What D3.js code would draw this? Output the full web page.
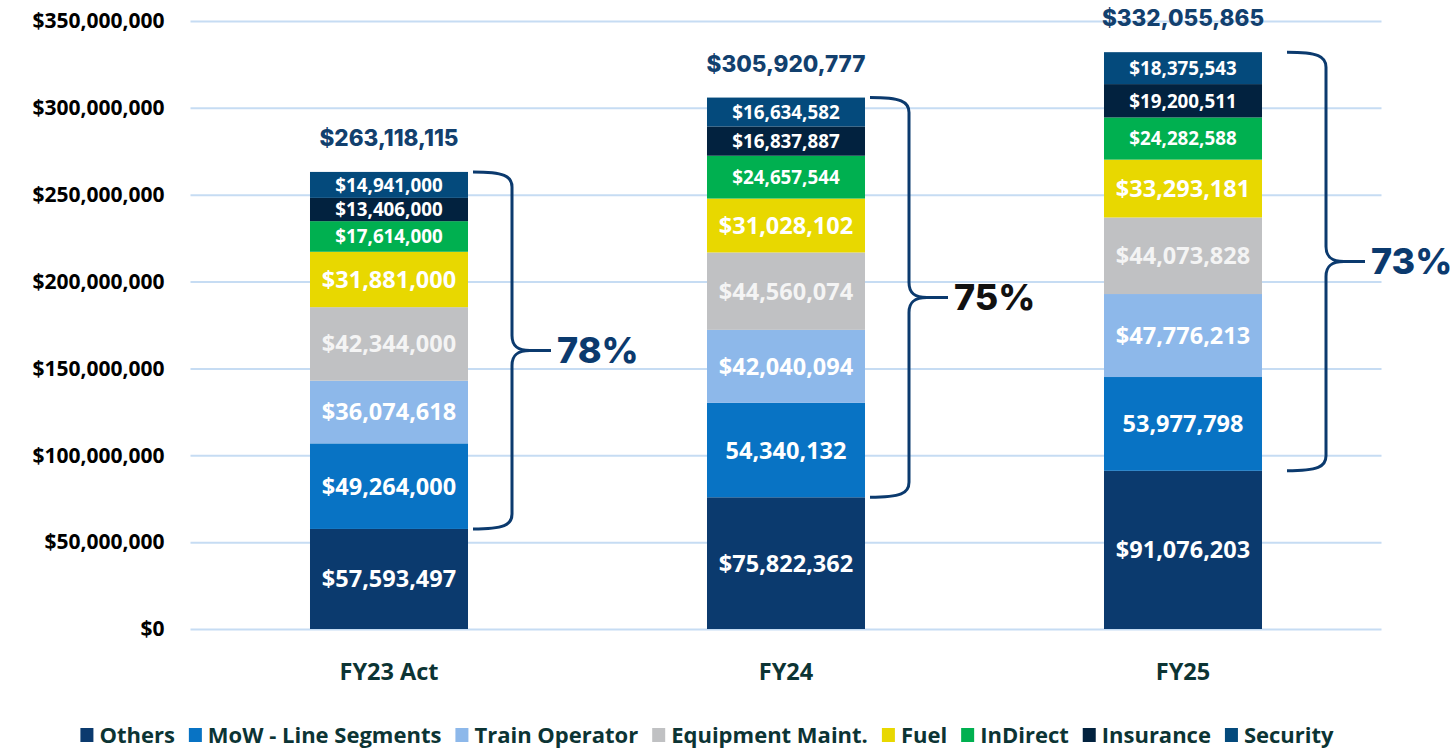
<!DOCTYPE html>
<html>
<head>
<meta charset="utf-8">
<script src="https://cdn.jsdelivr.net/npm/d3@7"></script>
<style>
  body { margin: 0; background: #fff; }
  svg { display: block; }
</style>
</head>
<body>
<div id="chart"></div>
<script>
// chart data
const categories = ["FY23 Act", "FY24", "FY25"]
const seriesNames = ["Others", "MoW - Line Segments", "Train Operator", "Equipment Maint.", "Fuel", "InDirect", "Insurance", "Security"]
const others = [57593497, 75822362, 91076203]
const mowLineSegments = [49264000, 54340132, 53977798]
const trainOperator = [36074618, 42040094, 47776213]
const equipmentMaint = [42344000, 44560074, 44073828]
const fuel = [31881000, 31028102, 33293181]
const inDirect = [17614000, 24657544, 24282588]
const insurance = [13406000, 16837887, 19200511]
const security = [14941000, 16634582, 18375543]
const yTicks = [0, 50000000, 100000000, 150000000, 200000000, 250000000, 300000000, 350000000]
// MoW labels for FY24 / FY25 are shown without the $ sign
const noDollar = [["FY24", "MoW - Line Segments"], ["FY25", "MoW - Line Segments"]]

const seriesValues = [others, mowLineSegments, trainOperator, equipmentMaint, fuel, inDirect, insurance, security]
const colors = ["#0b3a6e", "#0873c4", "#8db8ea", "#c0c1c3", "#e8d800", "#00b050", "#02223f", "#044a7c"]
const smallSeries = ["InDirect", "Insurance", "Security"]
const pctColors = ["#0b3a6e", "#111111", "#0b3a6e"]
const bracketGap = [5, 5, 25]

const width = 1451
const height = 751
const left = 190.5
const right = 1381.5
const font = "'Open Sans', sans-serif"
const font2 = "Inter, sans-serif"
const darkText = '#0c3434'

const svg = d3.select('#chart')
  .append('svg')
  .attr('width', width)
  .attr('height', height)

const rows = categories.map((c, i) => {
  const row = { category: c }
  seriesNames.forEach((s, j) => { row[s] = seriesValues[j][i] })
  return row
})

const stacked = d3.stack().keys(seriesNames)(rows)

const yScale = d3.scaleLinear()
  .domain([0, 350000000])
  .range([629, 21])

const xScale = d3.scaleBand()
  .domain(categories)
  .range([left, right])
  .paddingInner(0.602)
  .paddingOuter(0.301)

// gridlines + y labels
const yAxis = d3.axisLeft(yScale)
  .tickValues(yTicks)
  .tickSize(-(right - left))
  .tickPadding(26)
  .tickFormat(d3.format("$,"))

const yg = svg.append('g')
  .attr('transform', 'translate(' + left + ',0)')
  .call(yAxis)
yg.select('.domain').remove()
yg.selectAll('line').attr('stroke', '#c6dcf3').attr('stroke-width', 2)
yg.selectAll('text')
  .attr('fill', '#000')
  .style('font-family', font)
  .style('font-weight', 700)
  .style('font-size', '21px')

// x labels
const xAxis = d3.axisBottom(xScale).tickSize(0).tickPadding(34)
const xg = svg.append('g')
  .attr('transform', 'translate(0,629)')
  .call(xAxis)
xg.select('.domain').remove()
xg.selectAll('text')
  .attr('fill', darkText)
  .style('font-family', font)
  .style('font-weight', 700)
  .style('font-size', '23.5px')

// bars
const layers = svg.selectAll('g.layer')
  .data(stacked)
  .enter()
  .append('g')
  .attr('class', 'layer')
  .attr('fill', (d, i) => colors[i])

layers.selectAll('rect')
  .data(d => d)
  .enter()
  .append('rect')
  .attr('x', d => xScale(d.data.category))
  .attr('y', d => yScale(d[1]))
  .attr('width', xScale.bandwidth())
  .attr('height', d => yScale(d[0]) - yScale(d[1]))

// segment labels
const dollar = d3.format("$,")
const plain = d3.format(",")
stacked.forEach((layer) => {
  const key = layer.key
  const small = smallSeries.includes(key)
  svg.append('g')
    .selectAll('text')
    .data(layer)
    .enter()
    .append('text')
    .attr('x', d => xScale(d.data.category) + xScale.bandwidth() / 2)
    .attr('y', d => (yScale(d[0]) + yScale(d[1])) / 2)
    .attr('dy', '0.36em')
    .attr('text-anchor', 'middle')
    .attr('fill', key === "Equipment Maint." ? '#f4f4f4' : '#fff')
    .style('font-family', font)
    .style('font-weight', 700)
    .style('font-size', small ? '18.8px' : '23.5px')
    .text(d => {
      const v = d[1] - d[0]
      const skip = noDollar.some(n => n[0] === d.data.category && n[1] === key)
      return skip ? plain(v) : dollar(v)
    })
})

// totals
const totals = rows.map(r => d3.sum(seriesNames, s => r[s]))
svg.append('g')
  .selectAll('text')
  .data(categories)
  .enter()
  .append('text')
  .attr('x', d => xScale(d) + xScale.bandwidth() / 2)
  .attr('y', (d, i) => yScale(totals[i]) - 34)
  .attr('dy', '0.36em')
  .attr('text-anchor', 'middle')
  .attr('fill', '#12406e')
  .style('font-family', font2)
  .style('font-weight', 800)
  .style('font-size', '22.5px')
  .text((d, i) => dollar(totals[i]))

// brackets + percentages
categories.forEach((c, i) => {
  const x0 = xScale(c) + xScale.bandwidth() + bracketGap[i]
  const x1 = x0 + 39
  const x2 = x0 + 78
  const yT = yScale(totals[i])
  const yB = yScale(others[i])
  const ym = (yT + yB) / 2
  const r = 15
  const p = d3.path()
  p.moveTo(x0, yT)
  p.bezierCurveTo(x1 - 8, yT, x1, yT + 4, x1, yT + r)
  p.lineTo(x1, ym - r)
  p.bezierCurveTo(x1, ym - 4, x1 + 6, ym, x1 + 18, ym)
  p.lineTo(x2, ym)
  p.moveTo(x1 + 18, ym)
  p.bezierCurveTo(x1 + 6, ym, x1, ym + 4, x1, ym + r)
  p.lineTo(x1, yB - r)
  p.bezierCurveTo(x1, yB - 4, x1 - 8, yB, x0, yB)
  svg.append('path')
    .attr('d', p.toString())
    .attr('fill', 'none')
    .attr('stroke', '#0b3a6e')
    .attr('stroke-width', 3)

  const pct = (totals[i] - others[i]) / totals[i]
  svg.append('text')
    .attr('x', x2 + 6)
    .attr('y', ym)
    .attr('dy', '0.36em')
    .attr('fill', pctColors[i])
    .style('font-family', font2)
    .style('font-weight', 800)
    .style('font-size', '36px')
    .text(d3.format(".0%")(pct))
})

// legend
const legend = svg.append('g')
let lx = 0
seriesNames.forEach((s, i) => {
  const g = legend.append('g')
  g.append('rect')
    .attr('y', -7)
    .attr('width', 13)
    .attr('height', 14)
    .attr('fill', colors[i])
  const t = g.append('text')
    .attr('x', 19)
    .attr('dy', '0.36em')
    .attr('fill', darkText)
    .style('font-family', font)
    .style('font-weight', 700)
    .style('font-size', '22px')
    .text(s)
  const w = 19 + t.node().getComputedTextLength()
  g.attr('transform', 'translate(' + lx + ',0)')
  lx += w + 14
})
const legendW = lx - 14
legend.attr('transform', 'translate(' + (707 - legendW / 2) + ',735)')
</script>
</body>
</html>
